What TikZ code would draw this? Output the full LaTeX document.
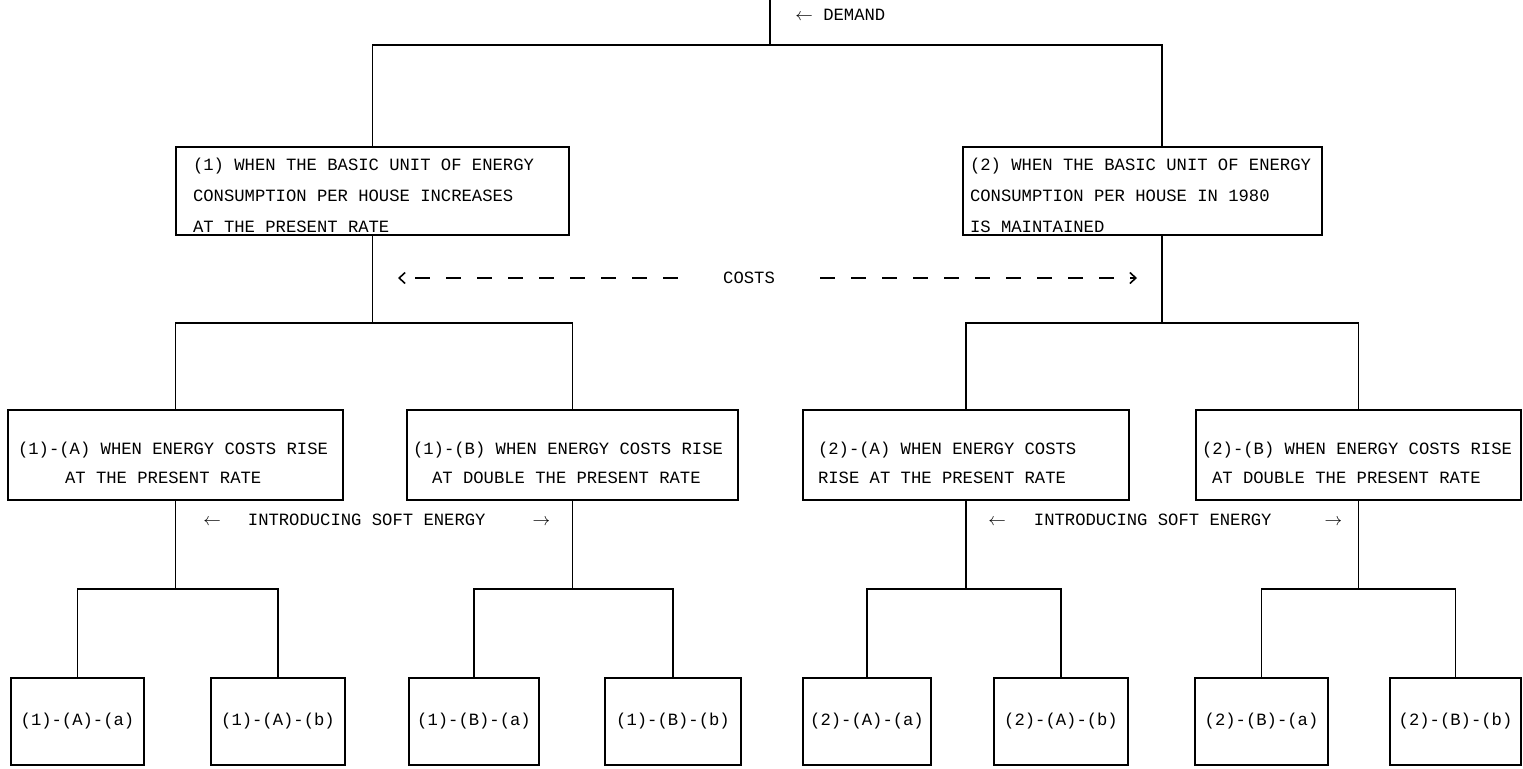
\documentclass[tikz,border=0pt]{standalone}
\usepackage{fontspec}
\newfontfamily\typefont{Liberation Mono}
\usetikzlibrary{arrows.meta}

\tikzset{
    treeline/.style={line width=1.1pt},
    casebox/.style={draw, line width=1pt, align=flush left, minimum height=1.76cm, inner ysep=0.05cm,
        font=\typefont\fontsize{9.8}{17.6}\selectfont, execute at begin node={\rule{0pt}{12pt}}},
    ratebox/.style={draw, line width=1pt, align=flush left, minimum height=1.8cm, inner ysep=0.05cm,
        font=\typefont\fontsize{9.8}{16.4}\selectfont, execute at begin node={\rule{0pt}{16pt}}},
    leafbox/.style={draw, line width=1pt, minimum height=1.74cm,
        font=\typefont\fontsize{9.8}{12}\selectfont},
    note/.style={inner sep=0pt, font=\typefont\fontsize{9.8}{12}\selectfont},
    costsline/.style={line width=0.9pt, dash pattern=on 0.3cm off 0.32cm,
        -{Straight Barb[length=1.2mm, width=2.2mm]}}
}

\begin{document}
\begin{tikzpicture}[x=0.02cm, y=-0.02cm]
                \useasboundingbox (0,0) rectangle (1523,768);

                % two cases of consumption
                \node[casebox, text width=7.18cm, inner xsep=0.34cm] (c1) at (372.5,191) {(1) WHEN THE BASIC UNIT OF ENERGY\\CONSUMPTION PER HOUSE INCREASES\\AT THE PRESENT RATE};
                \node[casebox, text width=6.9cm, inner xsep=0.14cm] (c2) at (1142.5,191) {(2) WHEN THE BASIC UNIT OF ENERGY\\CONSUMPTION PER HOUSE IN 1980\\IS MAINTAINED};

                % cost rates
                \node[ratebox, text width=6.3cm, inner xsep=0.2cm] (c1A) at (175.5,455) {(1)-(A) WHEN ENERGY COSTS RISE\\\hspace*{0.94cm}AT THE PRESENT RATE};
                \node[ratebox, text width=6.38cm, inner xsep=0.12cm] (c1B) at (572.5,455) {(1)-(B) WHEN ENERGY COSTS RISE\\\hspace*{0.38cm}AT DOUBLE THE PRESENT RATE};
                \node[ratebox, text width=5.92cm, inner xsep=0.3cm] (c2A) at (966,455) {(2)-(A) WHEN ENERGY COSTS\\RISE AT THE PRESENT RATE};
                \node[ratebox, text width=6.26cm, inner xsep=0.12cm] (c2B) at (1358.5,455) {(2)-(B) WHEN ENERGY COSTS RISE\\\hspace*{0.2cm}AT DOUBLE THE PRESENT RATE};

                % soft energy
                \node[leafbox, minimum width=2.66cm] (c1Aa) at (77.5,721.5) {(1)-(A)-(a)};
                \node[leafbox, minimum width=2.68cm] (c1Ab) at (278,721.5) {(1)-(A)-(b)};
                \node[leafbox, minimum width=2.6cm] (c1Ba) at (474,721.5) {(1)-(B)-(a)};
                \node[leafbox, minimum width=2.72cm] (c1Bb) at (673,721.5) {(1)-(B)-(b)};
                \node[leafbox, minimum width=2.56cm] (c2Aa) at (867,721.5) {(2)-(A)-(a)};
                \node[leafbox, minimum width=2.68cm] (c2Ab) at (1061,721.5) {(2)-(A)-(b)};
                \node[leafbox, minimum width=2.66cm] (c2Ba) at (1261.5,721.5) {(2)-(B)-(a)};
                \node[leafbox, minimum width=2.62cm] (c2Bb) at (1455.5,721.5) {(2)-(B)-(b)};

                % labels
                \node[note, anchor=west] (demand) at (795,15) {$\leftarrow$ DEMAND};
                \node[note, inner xsep=0.9cm] (costs) at (749,278) {COSTS};
                \node[note, anchor=west] (soft1) at (203,520) {$\leftarrow$\hspace{0.54cm}INTRODUCING SOFT ENERGY\hspace{0.94cm}$\rightarrow$};
                \node[note, anchor=west] (soft2) at (988,520) {$\leftarrow$\hspace{0.56cm}INTRODUCING SOFT ENERGY\hspace{1.06cm}$\rightarrow$};

                \coordinate (root) at (770,0);
                \coordinate (rootsplit) at (770,45);
                \coordinate (costsL) at (398,278);
                \coordinate (costsR) at (1137,278);

                \draw[treeline] (root) -- (rootsplit);
                \draw[treeline] (c1.north) |- (rootsplit) -| ([xshift=0.39cm]c2.north);

                \draw[treeline] (c1.south) -- ++(0,87) coordinate (c1split);
                \draw[treeline] (c1A.north) |- (c1split) -| (c1B.north);
                \draw[treeline] ([xshift=0.39cm]c2.south) -- ++(0,87) coordinate (c2split);
                \draw[treeline] (c2A.north) |- (c2split) -| (c2B.north);

                \foreach \n in {c1A,c1B,c2A,c2B} {
                    \draw[treeline] (\n.south) -- ++(0,88) coordinate (\n split);
                    \draw[treeline] (\n a.north) |- (\n split) -| (\n b.north);
                }

                \draw[costsline] (costs.west) -- (costsL);
                \draw[costsline] (costs.east) -- (costsR);
            \end{tikzpicture}
\end{document}
